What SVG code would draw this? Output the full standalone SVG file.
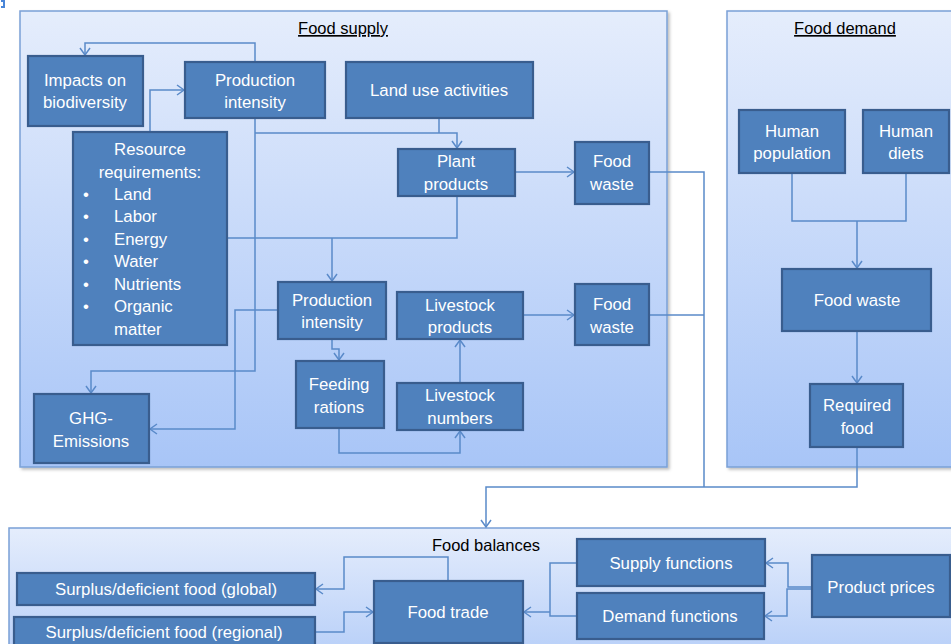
<svg xmlns="http://www.w3.org/2000/svg" width="951" height="644" viewBox="0 0 951 644">
<style>
.cont{stroke:#7aa0d6;stroke-width:1.5;}
.node rect{fill:#4f81bd;stroke:#395d8e;stroke-width:2.2;}
.node text{fill:#ffffff;font-family:"Liberation Sans",Arial,sans-serif;font-size:16.8px;text-anchor:middle;}
.node text.l{text-anchor:start;}
.title{fill:#000;font-family:"Liberation Sans",Arial,sans-serif;font-size:16.5px;text-anchor:middle;}
.conn path{fill:none;stroke:#5a8ac9;stroke-width:1.5;}
</style>
<defs>
<linearGradient id="g" x1="0" y1="0" x2="0" y2="1">
<stop offset="0" stop-color="#e5edfc"/>
<stop offset="1" stop-color="#a8c5f7"/>
</linearGradient>
<filter id="sh" x="-5%" y="-5%" width="110%" height="110%">
<feDropShadow dx="2" dy="2" stdDeviation="1.5" flood-color="#000" flood-opacity="0.25"/>
</filter>
<marker id="ah" markerWidth="12" markerHeight="12" refX="8" refY="6" orient="auto" markerUnits="userSpaceOnUse">
<path d="M1,1 L8,6 L1,11" fill="none" stroke="#5a8ac9" stroke-width="1.5"/>
</marker>
</defs>
<path d="M1,1 L4,1 L4,7 L1,7" fill="none" stroke="#4a86d8" stroke-width="2"/>
<g id="food-supply">
<rect class="cont" x="20" y="11" width="647" height="456" fill="url(#g)" filter="url(#sh)"/>
<text class="title" x="343" y="34" text-decoration="underline">Food supply</text>
</g>
<g id="food-demand">
<rect class="cont" x="727" y="11" width="240" height="456" fill="url(#g)" filter="url(#sh)"/>
<text class="title" x="845" y="34" text-decoration="underline">Food demand</text>
</g>
<g id="food-balances">
<rect class="cont" x="9" y="528" width="960" height="170" fill="url(#g)"/>
<text class="title" x="486" y="551">Food balances</text>
</g>
<g id="connectors" class="conn">
<path d="M255,62 V43 H85 V55" marker-end="url(#ah)"/>
<path d="M150,132 V90 H184" marker-end="url(#ah)"/>
<path d="M255,118 V371 H91 V393" marker-end="url(#ah)"/>
<path d="M255,133 H457 V148" marker-end="url(#ah)"/>
<path d="M439,118 V133"/>
<path d="M515,172 H574" marker-end="url(#ah)"/>
<path d="M227,238 H457 V196"/>
<path d="M332,238 V281" marker-end="url(#ah)"/>
<path d="M278,310 H235 V429 H150" marker-end="url(#ah)"/>
<path d="M332,339 V349 H339 V360" marker-end="url(#ah)"/>
<path d="M339,428 V453 H460 V431" marker-end="url(#ah)"/>
<path d="M460,383 V340" marker-end="url(#ah)"/>
<path d="M523,315 H574" marker-end="url(#ah)"/>
<path d="M649,172 H704 V487"/>
<path d="M649,315 H704"/>
<path d="M857,447 V487 H486 V527" marker-end="url(#ah)"/>
<path d="M792,173 V221 H906 V173"/>
<path d="M857,221 V268" marker-end="url(#ah)"/>
<path d="M857,331 V383" marker-end="url(#ah)"/>
<path d="M448,581 V557 H344 V589 H316" marker-end="url(#ah)"/>
<path d="M315,632 H344 V612 H373" marker-end="url(#ah)"/>
<path d="M577,563 H550 V616 H577"/>
<path d="M550,612 H524" marker-end="url(#ah)"/>
<path d="M812,587 H788 V563 H766" marker-end="url(#ah)"/>
<path d="M812,589 H787 V616 H765" marker-end="url(#ah)"/>
</g>
<g id="impacts-biodiversity" class="node"><rect x="28" y="56" width="115" height="70"/><text x="85" y="86">Impacts on</text><text x="85" y="108">biodiversity</text></g>
<g id="production-intensity-1" class="node"><rect x="185" y="62" width="140" height="56"/><text x="255" y="86">Production</text><text x="255" y="108">intensity</text></g>
<g id="land-use" class="node"><rect x="346" y="62" width="187" height="56"/><text x="439" y="96">Land use activities</text></g>
<g id="resource-requirements" class="node"><rect x="73" y="132" width="154" height="213"/>
<text x="150" y="155">Resource</text><text x="150" y="178">requirements:</text>
<text class="l" x="83" y="200">•</text><text class="l" x="114" y="200">Land</text>
<text class="l" x="83" y="222">•</text><text class="l" x="114" y="222">Labor</text>
<text class="l" x="83" y="245">•</text><text class="l" x="114" y="245">Energy</text>
<text class="l" x="83" y="267">•</text><text class="l" x="114" y="267">Water</text>
<text class="l" x="83" y="290">•</text><text class="l" x="114" y="290">Nutrients</text>
<text class="l" x="83" y="312">•</text><text class="l" x="114" y="312">Organic</text>
<text class="l" x="114" y="335">matter</text></g>
<g id="plant-products" class="node"><rect x="398" y="149" width="117" height="47"/><text x="456" y="167">Plant</text><text x="456" y="190">products</text></g>
<g id="food-waste-1" class="node"><rect x="575" y="142" width="74" height="62"/><text x="612" y="167">Food</text><text x="612" y="190">waste</text></g>
<g id="production-intensity-2" class="node"><rect x="278" y="282" width="108" height="57"/><text x="332" y="306">Production</text><text x="332" y="328">intensity</text></g>
<g id="livestock-products" class="node"><rect x="397" y="292" width="126" height="47"/><text x="460" y="311">Livestock</text><text x="460" y="333">products</text></g>
<g id="food-waste-2" class="node"><rect x="575" y="284" width="74" height="61"/><text x="612" y="310">Food</text><text x="612" y="333">waste</text></g>
<g id="feeding-rations" class="node"><rect x="296" y="361" width="88" height="67"/><text x="339" y="390">Feeding</text><text x="339" y="413">rations</text></g>
<g id="livestock-numbers" class="node"><rect x="397" y="383" width="126" height="47"/><text x="460" y="401">Livestock</text><text x="460" y="424">numbers</text></g>
<g id="ghg-emissions" class="node"><rect x="34" y="394" width="115" height="69"/><text x="91" y="424">GHG-</text><text x="91" y="447">Emissions</text></g>
<g id="human-population" class="node"><rect x="739" y="110" width="106" height="63"/><text x="792" y="137">Human</text><text x="792" y="159">population</text></g>
<g id="human-diets" class="node"><rect x="863" y="110" width="86" height="63"/><text x="906" y="137">Human</text><text x="906" y="159">diets</text></g>
<g id="food-waste-demand" class="node"><rect x="782" y="269" width="149" height="62"/><text x="857" y="306">Food waste</text></g>
<g id="required-food" class="node"><rect x="810" y="384" width="93" height="63"/><text x="857" y="411">Required</text><text x="857" y="434">food</text></g>
<g id="surplus-global" class="node"><rect x="17" y="573" width="298" height="32"/><text x="166" y="595">Surplus/deficient food (global)</text></g>
<g id="surplus-regional" class="node"><rect x="14" y="617" width="301" height="40"/><text x="164" y="638">Surplus/deficient food (regional)</text></g>
<g id="food-trade" class="node"><rect x="374" y="581" width="149" height="62"/><text x="448" y="618">Food trade</text></g>
<g id="supply-functions" class="node"><rect x="577" y="539" width="188" height="47"/><text x="671" y="569">Supply functions</text></g>
<g id="demand-functions" class="node"><rect x="577" y="593" width="187" height="46"/><text x="670" y="622">Demand functions</text></g>
<g id="product-prices" class="node"><rect x="812" y="555" width="138" height="62"/><text x="881" y="593">Product prices</text></g>
</svg>
